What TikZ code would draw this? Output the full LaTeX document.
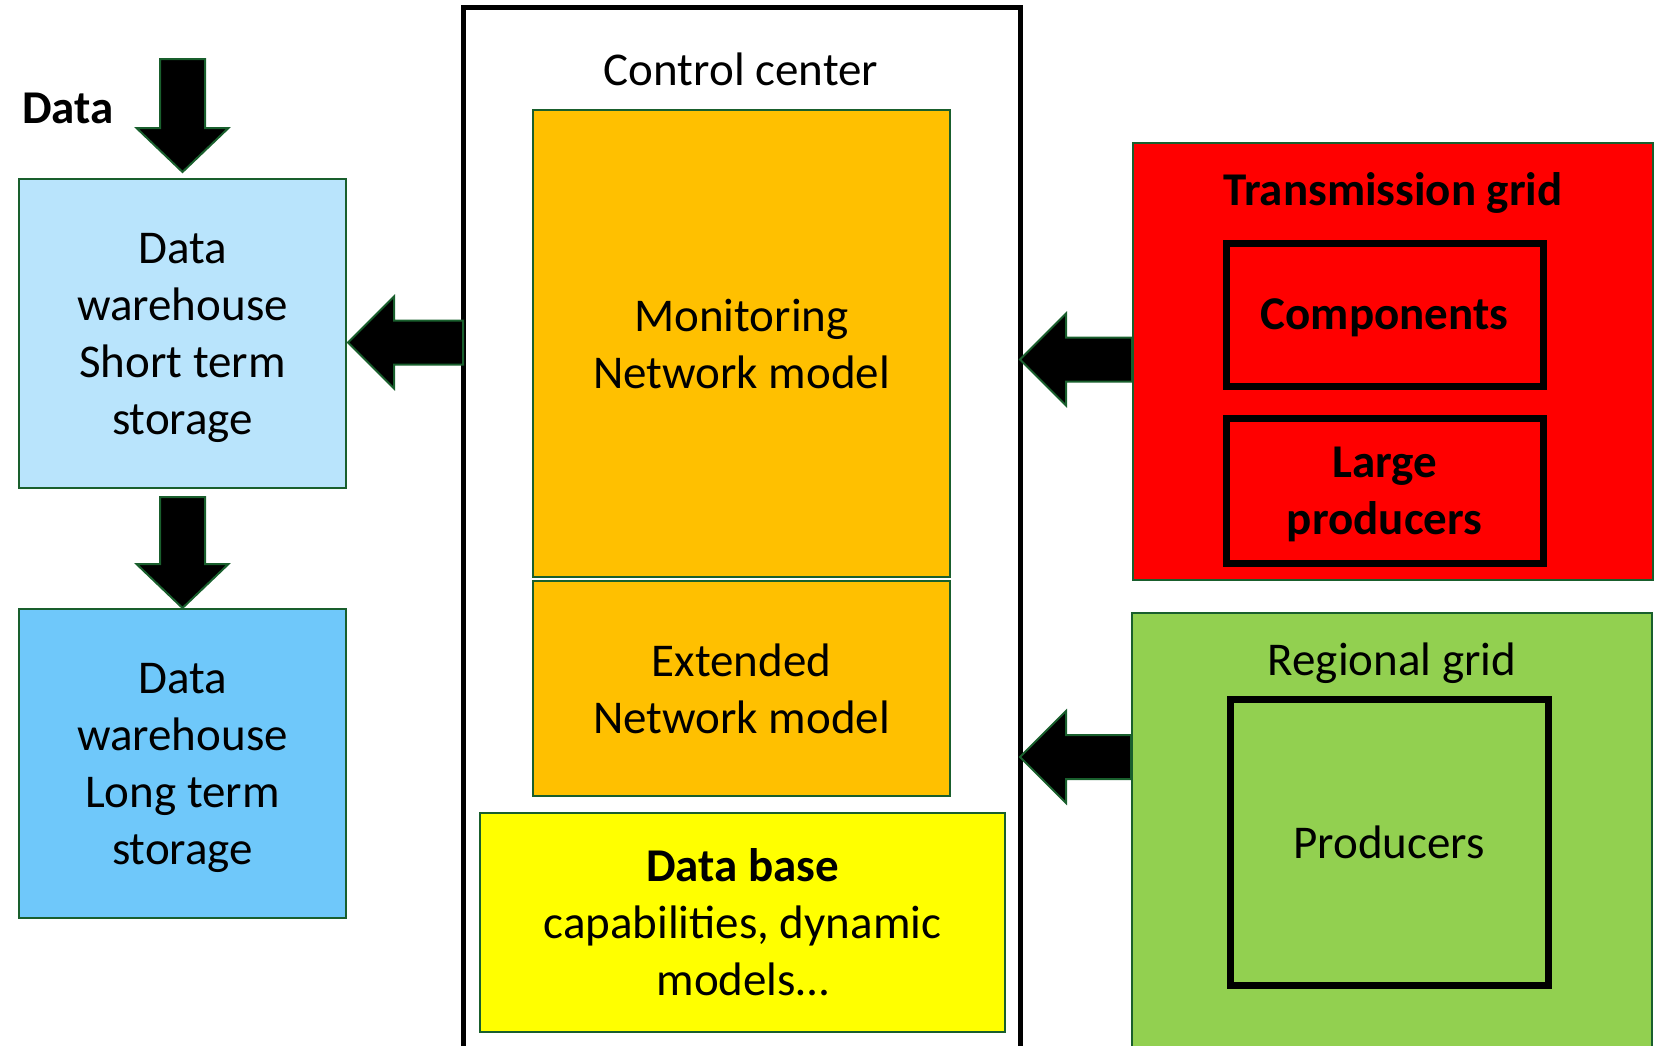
\documentclass[tikz,border=0pt]{standalone}
\usepackage{fontspec}
\setmainfont{Carlito}
\usetikzlibrary{calc}
\definecolor{bordergreen}{RGB}{25,95,45}
\definecolor{lightblueA}{RGB}{185,228,252}
\definecolor{lightblueB}{RGB}{111,200,250}
\definecolor{orangeA}{RGB}{255,192,0}
\definecolor{yellowA}{RGB}{255,255,0}
\definecolor{redA}{RGB}{255,0,0}
\definecolor{greenA}{RGB}{146,208,80}
\newcommand{\leftblockarrow}[2]{\draw[barrow] ($(#1)+(0,-22)$) -- ($(#2)+(46,-22)$) -- ($(#2)+(46,-46)$) -- (#2) -- ($(#2)+(46,46)$) -- ($(#2)+(46,22)$) -- ($(#1)+(0,22)$) -- cycle;}
\newcommand{\downblockarrow}[2]{\draw[barrow] ($(#1)+(-22.5,0)$) -- ($(#2)+(-22.5,-44)$) -- ($(#2)+(-46,-44)$) -- (#2) -- ($(#2)+(46,-44)$) -- ($(#2)+(22.5,-44)$) -- ($(#1)+(22.5,0)$) -- cycle;}
\begin{document}
\begin{tikzpicture}[x=1pt,y=-1pt,
  txt/.style={font=\fontsize{47}{57}\selectfont, align=center, inner sep=0pt},
  cbox/.style={draw=bordergreen, line width=2pt, inner sep=0pt, outer sep=0pt, anchor=north west, txt},
  ibox/.style={draw=black, line width=7pt, inner sep=0pt, outer sep=0pt, anchor=north west, txt},
  barrow/.style={draw=bordergreen, fill=black, line width=2pt, line join=miter}]
\useasboundingbox (0,0) rectangle (1665,1045);
\begin{scope}
\clip (0,0) rectangle (1665,1045);
% left column
\node[cbox, fill=lightblueA, minimum width=327pt, minimum height=309pt, text depth=0pt] (dws) at (19,179) {Data\\warehouse\\Short term\\storage};
\node[cbox, fill=lightblueB, minimum width=327pt, minimum height=309pt, text depth=0pt] (dwl) at (19,609) {Data\\warehouse\\Long term\\storage};
\node[txt, font=\fontsize{47}{57}\selectfont\bfseries] (datalbl) at (68,108) {Data};
% control center
\node[draw=black, line width=5pt, inner sep=0pt, outer sep=0pt, anchor=north west, minimum width=557pt, minimum height=1070pt] (cc) at (463,7) {};
\node[txt] (cctitle) at (741,69) {Control center};
\node[cbox, fill=orangeA, minimum width=417pt, minimum height=467pt] (mon) at (533,110) {Monitoring\\Network model};
\node[cbox, fill=orangeA, minimum width=417pt, minimum height=215pt] (ext) at (533,581) {Extended\\Network model};
\node[cbox, fill=yellowA, minimum width=525pt, minimum height=219pt] (db) at (480,813) {\textbf{Data base}\\capabilities, dynamic\\models\ldots};
% transmission grid
\node[cbox, fill=redA, minimum width=520pt, minimum height=437pt] (tg) at (1133,143) {};
\node[txt, font=\fontsize{47}{57}\selectfont\bfseries] (tgtitle) at (1393,193) {Transmission grid};
\node[ibox, minimum width=317pt, minimum height=143pt, text depth=0pt, font=\fontsize{47}{57}\selectfont\bfseries] (comp) at (1226,243) {Components};
\node[ibox, minimum width=317pt, minimum height=145pt, text depth=0pt, font=\fontsize{47}{57}\selectfont\bfseries] (large) at (1226,418) {Large\\producers};
% regional grid
\node[cbox, fill=greenA, minimum width=520pt, minimum height=460pt] (rg) at (1132,613) {};
\node[txt] (rgtitle) at (1392,663) {Regional grid};
\node[ibox, minimum width=318pt, minimum height=286pt] (prod) at (1230,699) {Producers};
% arrows
\coordinate (d1tail) at ($(dws.north)+(0,-120)$);
\coordinate (d1tip) at ($(dws.north)+(0,-7)$);
\downblockarrow{d1tail}{d1tip}
\coordinate (d2tail) at ($(dws.south)+(0,9)$);
\coordinate (d2tip) at ($(dwl.north)+(0,-1)$);
\downblockarrow{d2tail}{d2tip}
\coordinate (a1tip) at ($(dws.east)+(2,9)$);
\coordinate (a1tail) at (cc.west |- a1tip);
\leftblockarrow{a1tail}{a1tip}
\coordinate (a2tail) at ($(tg.west)+(-1,-2)$);
\coordinate (a2tip) at (cc.east |- a2tail);
\leftblockarrow{a2tail}{a2tip}
\coordinate (a3tail) at ($(rg.north west)+(-1,144)$);
\coordinate (a3tip) at (cc.east |- a3tail);
\leftblockarrow{a3tail}{a3tip}
\end{scope}
\end{tikzpicture}
\end{document}
